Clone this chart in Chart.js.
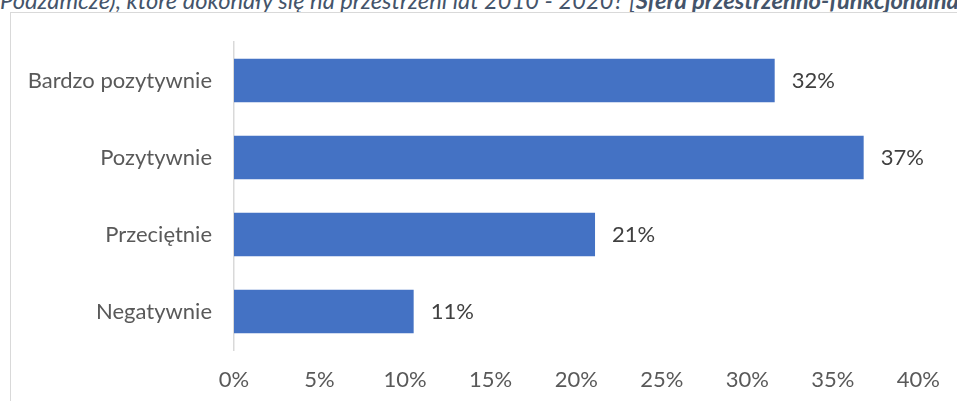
<!DOCTYPE html>
<html lang="pl">
<head>
  <meta charset="UTF-8">
  <title>Ocena zmian</title>
  <style>
    html, body {
      margin: 0;
      padding: 0;
      background: #fff;
      overflow: hidden;
    }

    .wrap {
      position: relative;
      width: 957px;
      height: 401px;
    }

    .title {
      position: absolute;
      left: 0;
      top: -12px;
      width: 957px;
      white-space: nowrap;
      overflow: hidden;
      font-family: Lato, sans-serif;
      font-style: italic;
      font-size: 23.7px;
      line-height: 24px;
      color: #44546A;
    }

    .frame {
      position: absolute;
      left: 10px;
      top: 12px;
      width: 960px;
      height: 400px;
      border-left: 1px solid #D9D9D9;
      border-top: 1px solid #D9D9D9;
    }

    canvas {
      position: absolute;
      left: 0;
      top: 0;
    }
  </style>
  <script src="https://cdn.jsdelivr.net/npm/chart.js"></script>
</head>
<body>

<div class="wrap">
  <div class="title">Podzamcze), które dokonały się na przestrzeni lat 2010 - 2020? [<b>Sfera przestrzenno-funkcjonalna</b>]</div>
  <div class="frame"></div>
  <canvas id="chart" width="957" height="401"></canvas>
</div>

<script>
  // dane
  const categories = ['Bardzo pozytywnie', 'Pozytywnie', 'Przeciętnie', 'Negatywnie'];
  const values = [31.6, 36.8, 21.1, 10.5];
  const xTicksMax = 40;
  const xTicksStep = 5;

  // etykiety wartości na końcach słupków
  const valueLabels = {
    id: 'valueLabels',
    afterDatasetsDraw(chart) {
      const ctx = chart.ctx;
      const meta = chart.getDatasetMeta(0);
      ctx.save();
      ctx.font = '22px Lato, sans-serif';
      ctx.fillStyle = '#404040';
      ctx.textAlign = 'left';
      ctx.textBaseline = 'middle';
      meta.data.forEach((bar, i) => {
        ctx.fillText(Math.round(values[i]) + '%', bar.x + 17, bar.y);
      });
      ctx.restore();
    }
  };

  const ctx = document.getElementById('chart').getContext('2d');
  new Chart(ctx, {
    type: 'bar',
    data: {
      labels: categories,
      datasets: [{
        data: values,
        backgroundColor: '#4472C4',
        borderWidth: 0,
        categoryPercentage: 1,
        barPercentage: 0.565
      }]
    },
    options: {
      indexAxis: 'y',
      responsive: false,
      animation: false,
      layout: {
        padding: { top: 42, right: 38, bottom: 0, left: 0 }
      },
      plugins: {
        legend: { display: false },
        tooltip: { enabled: false }
      },
      scales: {
        x: {
          min: 0,
          max: xTicksMax,
          grid: { display: false, drawTicks: false },
          border: { display: false },
          ticks: {
            stepSize: xTicksStep,
            padding: 17,
            color: '#595959',
            font: { family: 'Lato', size: 22 },
            callback: v => v + '%'
          },
          afterFit(scale) { scale.height = 51; }
        },
        y: {
          grid: { display: false, drawTicks: false },
          border: { display: true, color: '#D9D9D9', width: 1.5 },
          ticks: {
            padding: 22,
            color: '#595959',
            font: { family: 'Lato', size: 22 }
          },
          afterFit(scale) { scale.width = 234; }
        }
      }
    },
    plugins: [valueLabels]
  });
</script>

</body>
</html>
